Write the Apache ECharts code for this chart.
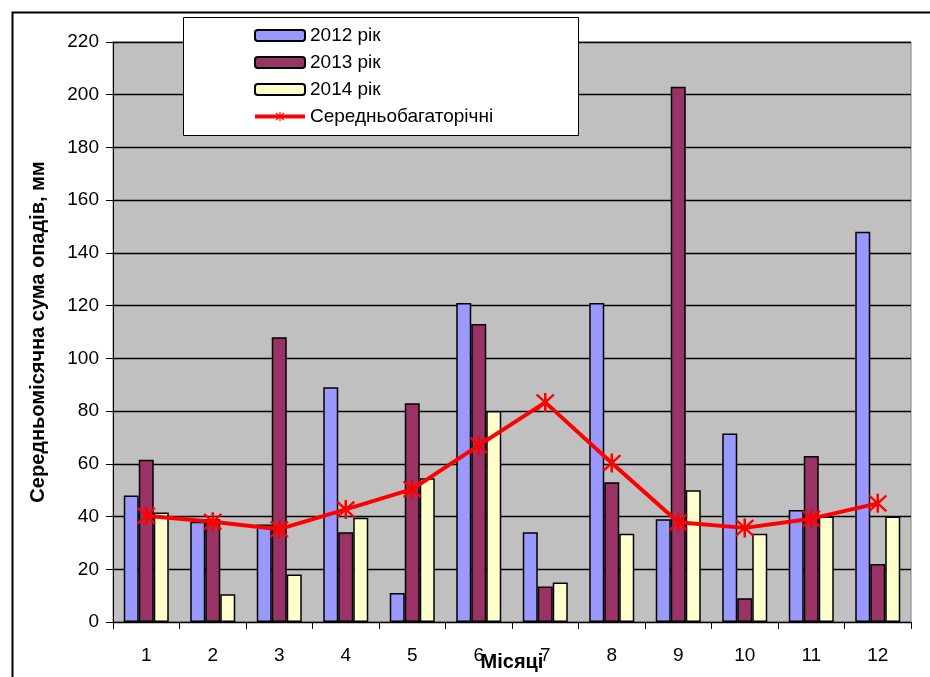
<!DOCTYPE html>
<html>
<head>
<meta charset="utf-8">
<script src="https://cdn.jsdelivr.net/npm/echarts@6/dist/echarts.min.js"></script>
<style>
  html, body { margin: 0; padding: 0; background: #fff; }
  #chart { width: 930px; height: 677px; }
</style>
</head>
<body>
<div id="chart"></div>
<script>
// Monthly precipitation, mm
const months = ['1', '2', '3', '4', '5', '6', '7', '8', '9', '10', '11', '12'];
const rain2012 = [48, 38, 37, 89, 11, 121, 34, 121, 39, 71.5, 42.5, 148];
const rain2013 = [61.5, 39, 108, 34, 83, 113, 13.5, 53, 203, 9, 63, 22];
const rain2014 = [41.5, 10.5, 18, 39.5, 54.5, 80, 15, 33.5, 50, 33.5, 40, 40];
const rainNorm = [40.3, 38, 35.2, 42.7, 50.4, 67, 83.3, 60.3, 37.8, 35.7, 39.2, 45];
const yTicks = { min: 0, max: 220, step: 20 };

const FONT = '"Liberation Sans", Arial, sans-serif';

// asterisk marker: vertical bar plus two diagonals
const asterisk = 'path://M4.4,0 L5.6,0 L5.6,10 L4.4,10 Z ' +
  'M0.45,1.3 L1.3,0.45 L9.55,8.7 L8.7,9.55 Z ' +
  'M8.7,0.45 L9.55,1.3 L1.3,9.55 L0.45,8.7 Z';

const barBase = {
  type: 'bar',
  barWidth: 15,
  barGap: '0%',
  z: 2
};

const chart = echarts.init(document.getElementById('chart'), null, { renderer: 'canvas' });
chart.setOption({
  animation: false,
  backgroundColor: '#ffffff',
  textStyle: { fontFamily: FONT },
  grid: {
    left: 113, top: 42, right: 19, bottom: 55,
    outerBoundsMode: 'none',
    containLabel: false,
    show: true, backgroundColor: '#C0C0C0', borderColor: '#808080', borderWidth: 1
  },
  graphic: [
    {
      type: 'rect', left: 10, top: 10, z: 100,
      shape: { x: 0, y: 0, width: 940, height: 700 },
      style: { fill: 'none', stroke: '#000', lineWidth: 2 }
    },
    {
      type: 'rect', left: 183, top: 17, z: 5,
      shape: { x: 0, y: 0, width: 395, height: 118 },
      style: { fill: '#fff', stroke: '#000', lineWidth: 1 }
    }
  ],
  legend: {
    orient: 'vertical',
    left: 253, top: 26,
    padding: 0,
    z: 10,
    itemWidth: 50,
    itemHeight: 11,
    itemGap: 8,
    lineStyle: { width: 4 },
    textStyle: { fontFamily: FONT, fontSize: 19, color: '#000' },
    data: ['2012 рік', '2013 рік', '2014 рік', 'Середньобагаторічні']
  },
  xAxis: {
    type: 'category',
    data: months,
    boundaryGap: true,
    name: 'Місяці',
    nameLocation: 'middle',
    nameGap: 30,
    nameMoveOverlap: false,
    nameTextStyle: { fontFamily: FONT, fontSize: 20, fontWeight: 'bold', color: '#000' },
    axisLine: { lineStyle: { color: '#000', width: 1 } },
    axisTick: { show: true, alignWithLabel: false, length: 7, lineStyle: { color: '#000' } },
    axisLabel: { color: '#000', fontSize: 19, fontFamily: FONT, margin: 24 },
    splitLine: { show: false }
  },
  yAxis: {
    type: 'value',
    min: yTicks.min, max: yTicks.max, interval: yTicks.step,
    name: 'Середньомісячна сума опадів, мм',
    nameLocation: 'middle',
    nameRotate: 90,
    nameGap: 65,
    nameMoveOverlap: false,
    nameTextStyle: { fontFamily: FONT, fontSize: 20, fontWeight: 'bold', color: '#000' },
    axisLine: { show: true, lineStyle: { color: '#000', width: 1 } },
    axisTick: { show: true, inside: false, length: 7, lineStyle: { color: '#000' } },
    axisLabel: { color: '#000', fontSize: 19, fontFamily: FONT, margin: 14 },
    splitLine: { show: true, lineStyle: { color: '#000', width: 1.3 } }
  },
  series: [
    Object.assign({}, barBase, {
      name: '2012 рік', data: rain2012,
      itemStyle: { color: '#9999FF', borderColor: '#000', borderWidth: 1.5 }
    }),
    Object.assign({}, barBase, {
      name: '2013 рік', data: rain2013,
      itemStyle: { color: '#993366', borderColor: '#000', borderWidth: 1.5 }
    }),
    Object.assign({}, barBase, {
      name: '2014 рік', data: rain2014,
      itemStyle: { color: '#FFFFCC', borderColor: '#000', borderWidth: 1.5 }
    }),
    {
      name: 'Середньобагаторічні',
      type: 'line',
      data: rainNorm,
      z: 3,
      symbol: asterisk,
      symbolSize: 19,
      showAllSymbol: true,
      lineStyle: { color: '#FF0000', width: 4 },
      itemStyle: { color: '#FF0000' }
    }
  ]
});
</script>
</body>
</html>
